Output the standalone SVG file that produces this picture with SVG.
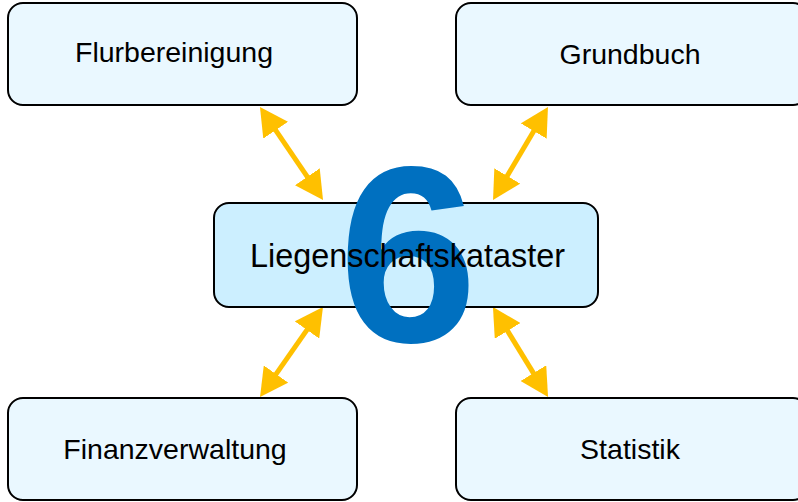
<svg xmlns="http://www.w3.org/2000/svg" width="798" height="502" viewBox="0 0 798 502">
<style>
.box{fill:#EAF8FF;stroke:#000;stroke-width:2}
.center{fill:#CCEFFF;stroke:#000;stroke-width:2}
.lbl{font-family:"Liberation Sans",Arial,sans-serif;font-size:28.5px;fill:#000;text-anchor:middle}
.clbl{font-family:"Liberation Sans",Arial,sans-serif;font-size:32.4px;fill:#000;text-anchor:middle}
.conn{stroke:#FFC000;stroke-width:5;fill:none;marker-start:url(#ah);marker-end:url(#ah)}
.num{font-family:"Liberation Sans",Arial,sans-serif;font-weight:bold;font-size:250px;fill:#0070C0;text-anchor:middle}
</style>
<defs>
<marker id="ah" viewBox="0 0 28 30" refX="8" refY="15" markerWidth="28" markerHeight="30" markerUnits="userSpaceOnUse" orient="auto-start-reverse">
<path d="M0,0 L28,15 L0,30 z" fill="#FFC000"/>
</marker>
</defs>
<rect width="798" height="502" fill="#fff"/>
<g id="connectors">
<line class="conn" x1="271.2" y1="123.6" x2="311.8" y2="183.4"/>
<line class="conn" x1="537.8" y1="124.2" x2="503.2" y2="182.8"/>
<line class="conn" x1="311.5" y1="323.4" x2="271.5" y2="380.6"/>
<line class="conn" x1="503.4" y1="324.1" x2="537.6" y2="379.9"/>
</g>
<g id="flurbereinigung">
<rect class="box" x="8" y="3" width="349" height="102" rx="15"/>
<text class="lbl" x="174" y="62">Flurbereinigung</text>
</g>
<g id="grundbuch">
<rect class="box" x="456" y="3" width="352" height="102" rx="15"/>
<text class="lbl" x="630" y="64">Grundbuch</text>
</g>
<g id="finanzverwaltung">
<rect class="box" x="8" y="398" width="349" height="102" rx="15"/>
<text class="lbl" x="175" y="459">Finanzverwaltung</text>
</g>
<g id="statistik">
<rect class="box" x="456" y="398" width="352" height="102" rx="15"/>
<text class="lbl" x="630" y="459">Statistik</text>
</g>
<g id="liegenschaftskataster">
<rect class="center" x="214" y="203" width="384" height="104" rx="15"/>
<text class="num" x="408" y="342">6</text>
<text class="clbl" x="407.5" y="267">Liegenschaftskataster</text>
</g>
</svg>
